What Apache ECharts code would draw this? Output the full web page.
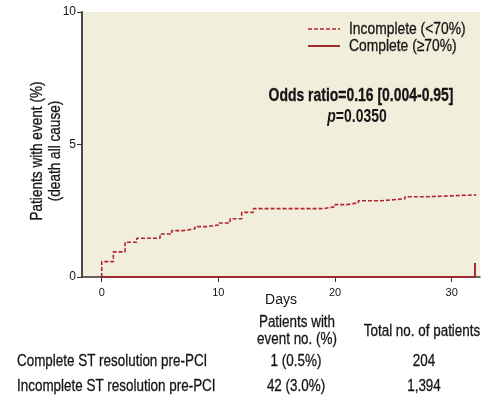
<!DOCTYPE html>
<html><head><meta charset="utf-8">
<script src="https://cdn.jsdelivr.net/npm/echarts@6/dist/echarts.min.js"></script>
<style>html,body{margin:0;padding:0;background:#fff}#c{width:502px;height:402px}</style>
</head><body><div id="c"></div>
<script>
var FONT = '"Liberation Sans","Arial",sans-serif';
// Kaplan-Meier steps (day, cumulative % with event)
var incompleteDays = [0, 0, 1, 2, 3, 5, 6, 7, 8, 9, 10, 11, 12, 13, 19, 20, 21, 22, 24, 26, 28, 32.1];
var incompleteVals = [0, 0.58, 0.95, 1.31, 1.46, 1.62, 1.75, 1.82, 1.90, 1.96, 2.04, 2.2, 2.44, 2.58, 2.65, 2.73, 2.8, 2.88, 2.95, 3.03, 3.1, 3.1];
var completeDays = [0, 32, 32];
var completeVals = [0, 0, 0.53];
var xTicks = [0, 10, 20, 30];
var seriesNames = ['Incomplete (<70%)', 'Complete (\u226570%)'];
var yTitle = ['Patients with event (%)', '(death all cause)'];
var oddsText = 'Odds ratio=0.16 [0.004-0.95]';
var pText = ['p', '=0.0350'];
var tableHeader = ['Patients with', 'event no. (%)', 'Total no. of patients'];
var tableRows = ['Complete ST resolution pre-PCI', 'Incomplete ST resolution pre-PCI'];
var tableEvents = ['1 (0.5%)', '42 (3.0%)'];
var tableTotals = ['204', '1,394'];

var COL_INC = '#b3262e', COL_COM = '#9e2a2b', INK = '#151515';
function zip(a, b) { return a.map(function (v, i) { return [v, b[i]]; }); }

var chart = echarts.init(document.getElementById('c'), null, {renderer: 'canvas'});
function txt(t, x, y, opt, el) {
  return Object.assign({type: 'text', x: x, y: y, scaleX: 0.79,
    style: Object.assign({text: t, font: '17px ' + FONT, fill: INK, stroke: INK, lineWidth: 0.3,
      textAlign: 'center', textVerticalAlign: 'middle'}, opt || {})}, el || {});
}
chart.setOption({
  animation: false,
  grid: {left: 82, right: 22, top: 12, bottom: 125, show: true, backgroundColor: '#f2eedc', borderWidth: 0},
  xAxis: {
    type: 'value', min: -1.69, max: 32.43,
    name: 'Days', nameLocation: 'middle', nameGap: 16, nameMoveOverlap: false,
    nameTextStyle: {fontFamily: FONT, fontSize: 14, color: INK},
    axisLine: {lineStyle: {color: '#333', width: 1.5}},
    axisTick: {customValues: xTicks, length: 5, lineStyle: {color: '#333'}},
    axisLabel: {customValues: xTicks, fontFamily: FONT, fontSize: 11, color: INK, margin: 10},
    splitLine: {show: false}
  },
  yAxis: {
    type: 'value', min: 0, max: 10, interval: 5,
    axisLine: {show: true, onZero: false, lineStyle: {color: '#4a4a4a', width: 2}},
    axisTick: {show: true, length: 5, lineStyle: {color: '#333'}},
    axisLabel: {fontFamily: FONT, fontSize: 12, color: INK, margin: 6},
    splitLine: {show: false}
  },
  series: [
    {name: seriesNames[0], type: 'line', step: 'end', symbol: 'none', data: zip(incompleteDays, incompleteVals),
     lineStyle: {color: COL_INC, width: 1.6, type: [4, 2]}, itemStyle: {color: COL_INC}, z: 3},
    {name: seriesNames[1], type: 'line', step: 'end', symbol: 'none', data: zip(completeDays, completeVals),
     lineStyle: {color: COL_COM, width: 2}, itemStyle: {color: COL_COM}, z: 4}
  ],
  graphic: [
    txt(yTitle[0], 37, 151, {font: '17px ' + FONT}, {rotation: Math.PI / 2, scaleX: 0.8}),
    txt(yTitle[1], 55, 151, {font: '17px ' + FONT}, {rotation: Math.PI / 2, scaleX: 0.8}),
    // legend
    {type: 'line', shape: {x1: 308, y1: 29, x2: 340, y2: 29}, style: {stroke: COL_INC, lineWidth: 1.4, lineDash: [4, 2]}},
    {type: 'line', shape: {x1: 308, y1: 46, x2: 340, y2: 46}, style: {stroke: COL_COM, lineWidth: 2}},
    txt(seriesNames[0], 349, 29, {textAlign: 'left'}, {scaleX: 0.815}),
    txt(seriesNames[1], 349, 46, {textAlign: 'left'}, {scaleX: 0.815}),
    // annotation
    txt(oddsText, 361, 96, {font: 'bold 18px ' + FONT}, {scaleX: 0.775}),
    {type: 'text', x: 357, y: 117, scaleX: 0.775, style: {
      text: '{i|' + pText[0] + '}{b|' + pText[1] + '}', textAlign: 'center', textVerticalAlign: 'middle',
      rich: {i: {font: 'italic bold 18px ' + FONT, fill: INK}, b: {font: 'bold 18px ' + FONT, fill: INK}}}},
    // table
    txt(tableHeader[0], 297, 322), txt(tableHeader[1], 297, 339),
    txt(tableHeader[2], 422, 331),
    txt(tableRows[0], 17, 361, {textAlign: 'left'}), txt(tableRows[1], 17, 386, {textAlign: 'left'}),
    txt(tableEvents[0], 296, 361), txt(tableEvents[1], 296, 386),
    txt(tableTotals[0], 424, 361), txt(tableTotals[1], 424, 386)
  ]
});
</script></body></html>
